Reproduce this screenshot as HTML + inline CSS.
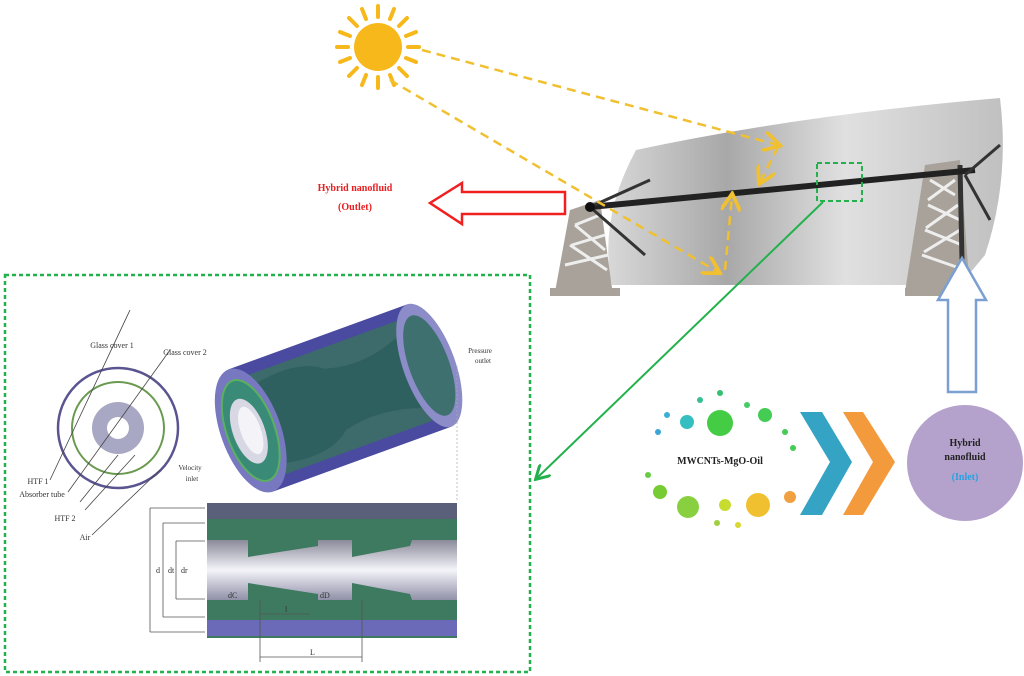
<!DOCTYPE html>
<html><head><meta charset="utf-8"><style>
html,body{margin:0;padding:0;background:#fff;}
svg{display:block;}
text{font-family:"Liberation Serif",serif;}
</style></head><body>
<svg width="1024" height="676" viewBox="0 0 1024 676" xmlns="http://www.w3.org/2000/svg">
<defs>
<linearGradient id="refl" x1="0" y1="0" x2="1" y2="0">
<stop offset="0" stop-color="#d8d8d8"/><stop offset="0.3" stop-color="#a8a8a8"/><stop offset="0.6" stop-color="#e0e0e0"/><stop offset="1" stop-color="#c0c0c0"/>
</linearGradient>
<linearGradient id="pipe" x1="0" y1="0" x2="0" y2="1">
<stop offset="0" stop-color="#8a8a9a"/><stop offset="0.5" stop-color="#f4f4fa"/><stop offset="1" stop-color="#9090a8"/>
</linearGradient>
<marker id="ay" markerWidth="8" markerHeight="8" refX="6" refY="4" orient="auto"><path d="M0,0 L7,4 L0,8" fill="none" stroke="#f0c030" stroke-width="1.5"/></marker>
<marker id="ag" markerWidth="8" markerHeight="8" refX="6" refY="4" orient="auto"><path d="M0,0 L7,4 L0,8" fill="none" stroke="#22b14c" stroke-width="1.5"/></marker>
</defs>

<!-- Sun -->
<g fill="#f7b81c">
<circle cx="378" cy="47" r="24"/>
<g stroke="#f7b81c" stroke-width="4" stroke-linecap="round">
<line x1="378" y1="17" x2="378" y2="6"/><line x1="378" y1="77" x2="378" y2="88"/>
<line x1="348" y1="47" x2="337" y2="47"/><line x1="408" y1="47" x2="419" y2="47"/>
<line x1="357" y1="26" x2="349" y2="18"/><line x1="399" y1="26" x2="407" y2="18"/>
<line x1="357" y1="68" x2="349" y2="76"/><line x1="399" y1="68" x2="407" y2="76"/>
<line x1="366" y1="19" x2="362" y2="9"/><line x1="390" y1="19" x2="394" y2="9"/>
<line x1="350" y1="36" x2="340" y2="32"/><line x1="406" y1="36" x2="416" y2="32"/>
<line x1="350" y1="58" x2="340" y2="62"/><line x1="406" y1="58" x2="416" y2="62"/>
<line x1="366" y1="75" x2="362" y2="85"/><line x1="390" y1="75" x2="394" y2="85"/>
</g></g>

<!-- Reflector -->
<path d="M636,150 Q800,115 1000,98 Q1010,180 985,255 L960,285 L612,285 Q598,220 636,150 Z" fill="url(#refl)"/>
<!-- Supports -->
<path d="M570,210 L600,200 L612,288 L555,292 Z" fill="#a8a29a"/>
<path d="M575,225 L600,215 M572,245 L605,235 M565,265 L608,255 M575,225 L605,250 M570,245 L607,270" stroke="#eee" stroke-width="3"/>
<rect x="550" y="288" width="70" height="8" fill="#a8a29a"/>
<path d="M925,165 L960,160 L970,292 L905,292 Z" fill="#a8a29a"/>
<path d="M930,180 L955,195 M928,205 L960,220 M925,230 L962,245 M922,255 L965,270 M955,180 L928,200 M958,205 L926,228 M960,230 L924,252" stroke="#eee" stroke-width="3"/>
<rect x="905" y="288" width="75" height="8" fill="#a8a29a"/>
<line x1="960" y1="165" x2="962" y2="260" stroke="#333" stroke-width="5"/>
<!-- Receiver -->
<line x1="590" y1="207" x2="975" y2="170" stroke="#222" stroke-width="6"/>
<line x1="590" y1="207" x2="650" y2="180" stroke="#333" stroke-width="3"/>
<line x1="590" y1="207" x2="645" y2="255" stroke="#333" stroke-width="3"/>
<line x1="965" y1="175" x2="1000" y2="145" stroke="#333" stroke-width="3"/>
<line x1="965" y1="175" x2="990" y2="220" stroke="#333" stroke-width="3"/>
<circle cx="590" cy="207" r="5" fill="#111"/>

<!-- Yellow rays -->
<g stroke="#f0c030" stroke-width="2.5" stroke-dasharray="9,6" fill="none">
<line x1="422" y1="50" x2="778" y2="145" marker-end="url(#ay)"/>
<line x1="390" y1="80" x2="718" y2="272" marker-end="url(#ay)"/>
<line x1="778" y1="147" x2="760" y2="182" marker-end="url(#ay)"/>
<line x1="725" y1="270" x2="732" y2="196" marker-end="url(#ay)"/>
</g>

<!-- Green detail box on receiver -->
<rect x="817" y="163" width="45" height="38" fill="none" stroke="#22b14c" stroke-width="2" stroke-dasharray="5,3"/>
<line x1="823" y1="202" x2="537" y2="478" stroke="#22b14c" stroke-width="2" marker-end="url(#ag)"/>

<!-- Red outlet arrow -->
<path d="M565,192 L462,192 L462,183 L430,203 L462,224 L462,214 L565,214 Z" fill="#fff" stroke="#f02020" stroke-width="2.5"/>
<text x="355" y="191" fill="#e82020" font-size="10" font-weight="bold" text-anchor="middle">Hybrid nanofluid</text>
<text x="355" y="210" fill="#e82020" font-size="10" font-weight="bold" text-anchor="middle">(Outlet)</text>

<!-- Blue inlet arrow -->
<path d="M948,392 L976,392 L976,300 L986,300 L962,258 L938,300 L948,300 Z" fill="#fff" stroke="#7a9fd0" stroke-width="2.5"/>

<!-- Purple circle -->
<circle cx="965" cy="463" r="58" fill="#b4a2cc"/>
<text x="965" y="446" font-size="10" font-weight="bold" text-anchor="middle" fill="#222">Hybrid</text>
<text x="965" y="460" font-size="10" font-weight="bold" text-anchor="middle" fill="#222">nanofluid</text>
<text x="965" y="480" font-size="10" font-weight="bold" text-anchor="middle" fill="#2aa0e0">(Inlet)</text>

<!-- Chevrons -->
<polygon points="800,412 822,412 852,462 822,515 800,515 830,462" fill="#35a3c4"/>
<polygon points="843,412 863,412 895,462 863,515 843,515 873,462" fill="#f39a3c"/>

<!-- Dots -->
<g>
<circle cx="658" cy="432" r="3" fill="#3ba6d6"/>
<circle cx="667" cy="415" r="3" fill="#3bb0d6"/>
<circle cx="687" cy="422" r="7" fill="#36bfc0"/>
<circle cx="700" cy="400" r="3" fill="#35c096"/>
<circle cx="720" cy="393" r="3" fill="#30c070"/>
<circle cx="720" cy="423" r="13" fill="#44cc44"/>
<circle cx="747" cy="405" r="3" fill="#44cc66"/>
<circle cx="765" cy="415" r="7" fill="#44cc55"/>
<circle cx="785" cy="432" r="3" fill="#44cc55"/>
<circle cx="793" cy="448" r="3" fill="#44cc55"/>
<circle cx="648" cy="475" r="3" fill="#66cc44"/>
<circle cx="660" cy="492" r="7" fill="#77cc33"/>
<circle cx="688" cy="507" r="11" fill="#88d040"/>
<circle cx="717" cy="523" r="3" fill="#a0d040"/>
<circle cx="725" cy="505" r="6" fill="#c8dc30"/>
<circle cx="738" cy="525" r="3" fill="#d8d830"/>
<circle cx="758" cy="505" r="12" fill="#f0c030"/>
<circle cx="790" cy="497" r="6" fill="#f0a040"/>
</g>
<text x="720" y="464" font-size="10" font-weight="bold" text-anchor="middle" fill="#222">MWCNTs-MgO-Oil</text>

<!-- Detail box -->
<rect x="5" y="275" width="525" height="397" fill="#fff" stroke="#22b14c" stroke-width="2.5" stroke-dasharray="4,3"/>

<!-- Cross section circles -->
<circle cx="118" cy="428" r="60" fill="#fff" stroke="#5a5590" stroke-width="2.5"/>
<circle cx="118" cy="428" r="46" fill="#fff" stroke="#6a9a50" stroke-width="2"/>
<circle cx="118" cy="428" r="26" fill="#a8a8c4"/>
<circle cx="118" cy="428" r="11" fill="#fff"/>
<g stroke="#444" stroke-width="0.8">
<line x1="50" y1="480" x2="130" y2="310"/>
<line x1="68" y1="492" x2="170" y2="350"/>
<line x1="80" y1="502" x2="118" y2="455"/>
<line x1="85" y1="510" x2="135" y2="455"/>
<line x1="92" y1="535" x2="160" y2="470"/>
</g>
<text x="112" y="348" font-size="8" text-anchor="middle" fill="#333">Glass cover 1</text>
<text x="185" y="355" font-size="8" text-anchor="middle" fill="#333">Glass cover 2</text>
<text x="38" y="484" font-size="8" text-anchor="middle" fill="#333">HTF 1</text>
<text x="42" y="497" font-size="8" text-anchor="middle" fill="#333">Absorber tube</text>
<text x="65" y="521" font-size="8" text-anchor="middle" fill="#333">HTF 2</text>
<text x="85" y="540" font-size="8" text-anchor="middle" fill="#333">Air</text>

<!-- 3D cylinder -->
<g transform="rotate(-20 340 398)">
<rect x="245" y="333" width="190" height="130" fill="#4a4aa0"/>
<rect x="245" y="345" width="190" height="106" fill="#3d6a6a"/>
<path d="M255,358 Q310,345 335,365 Q375,378 420,358 L430,358 L430,438 L420,438 Q375,420 335,430 Q310,452 255,438 Z" fill="#2f6060"/>
<ellipse cx="435" cy="398" rx="26" ry="65" fill="#8c8cc8"/>
<ellipse cx="435" cy="398" rx="20" ry="53" fill="#3e7070"/>
<ellipse cx="245" cy="398" rx="30" ry="65" fill="#7878c0"/>
<ellipse cx="245" cy="398" rx="24" ry="53" fill="#3a8a78" stroke="#5ab060" stroke-width="2"/>
<ellipse cx="243" cy="398" rx="16" ry="34" fill="#d8d8e4"/>
<ellipse cx="245" cy="398" rx="10" ry="25" fill="#f4f4f8"/>
</g>
<text x="480" y="353" font-size="7" text-anchor="middle" fill="#333">Pressure</text>
<text x="483" y="363" font-size="7" text-anchor="middle" fill="#333">outlet</text>
<text x="190" y="470" font-size="7" text-anchor="middle" fill="#333">Velocity</text>
<text x="192" y="481" font-size="7" text-anchor="middle" fill="#333">inlet</text>
<line x1="457" y1="366" x2="457" y2="502" stroke="#aaa" stroke-width="0.7" stroke-dasharray="2,2"/>

<!-- Longitudinal section -->
<rect x="207" y="503" width="250" height="135" fill="#3d7a60"/>
<rect x="207" y="503" width="250" height="16" fill="#5a5f7a"/>
<rect x="207" y="620" width="250" height="16" fill="#6a6ab8"/>
<path d="M207,540 L248,540 L248,557 L318,546 L318,540 L352,540 L352,557 L410,546 L412,540 L457,540 L457,600 L412,600 L410,594 L352,583 L352,600 L318,600 L318,594 L248,583 L248,600 L207,600 Z" fill="url(#pipe)"/>
<g stroke="#555" stroke-width="0.8" fill="none">
<line x1="150" y1="508" x2="150" y2="632"/><line x1="150" y1="508" x2="205" y2="508"/><line x1="150" y1="632" x2="205" y2="632"/>
<line x1="163" y1="523" x2="163" y2="617"/><line x1="163" y1="523" x2="205" y2="523"/><line x1="163" y1="617" x2="205" y2="617"/>
<line x1="176" y1="541" x2="176" y2="599"/><line x1="176" y1="541" x2="205" y2="541"/><line x1="176" y1="599" x2="205" y2="599"/>
<line x1="260" y1="600" x2="260" y2="662"/><line x1="362" y1="600" x2="362" y2="662"/>
<line x1="260" y1="657" x2="362" y2="657"/>
<line x1="260" y1="614" x2="310" y2="614"/>
</g>
<text x="156" y="573" font-size="8" fill="#333">d</text>
<text x="168" y="573" font-size="8" fill="#333">dt</text>
<text x="181" y="573" font-size="8" fill="#333">dr</text>
<text x="228" y="598" font-size="8" fill="#333">dC</text>
<text x="320" y="598" font-size="8" fill="#333">dD</text>
<text x="285" y="612" font-size="8" fill="#333">l</text>
<text x="310" y="655" font-size="8" fill="#333">L</text>
</svg>
</body></html>
